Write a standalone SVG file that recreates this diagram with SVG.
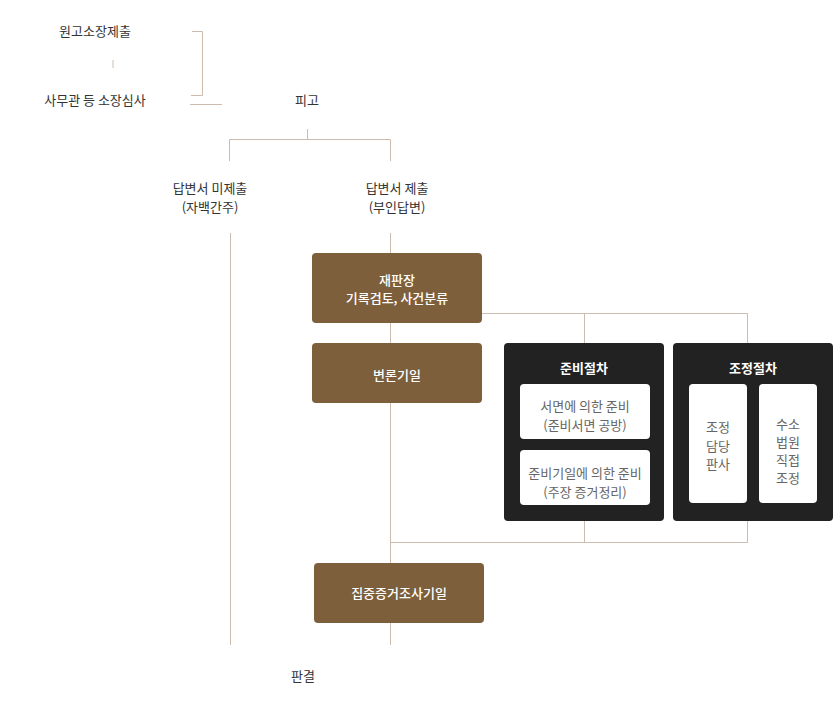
<svg xmlns="http://www.w3.org/2000/svg" width="833" height="706" viewBox="0 0 833 706">
<style>
text{font-family:"Noto Sans CJK KR","Noto Sans",sans-serif;text-anchor:middle}
.lbl{font-size:13px;fill:#333}
.wt{font-size:13px;fill:#fff;font-weight:500}
.hd{font-size:13px;fill:#fff;font-weight:bold}
.gt{font-size:13px;fill:#666}
.ln{stroke:#cdbcad;stroke-width:1;fill:none}
.br{fill:#7d5f3c}
.dk{fill:#222}
.wb{fill:#fff}
</style>
<rect width="833" height="706" fill="#fff"/>
<g id="connectors" class="ln">
<path d="M113 60V68"/>
<path d="M192 31.5H202.5V95.5H191"/>
<path d="M190 104.5H222"/>
<path d="M307.5 129V139.5M229.5 161V139.5H390.5V161"/>
<path d="M230.5 233V645"/>
<path d="M390.5 233V253M390.5 322V343M390.5 402V563M390.5 622V645"/>
<path d="M482 313.5H747.5V343M584.5 313.5V343"/>
<path d="M584.5 521V542.5M747.5 521V542.5H390.5"/>
</g>
<g id="n-wongo"><text class="lbl" x="95" y="36">원고소장제출</text></g>
<g id="n-samugwan"><text class="lbl" x="95" y="105">사무관 등 소장심사</text></g>
<g id="n-pigo"><text class="lbl" x="307" y="105">피고</text></g>
<g id="n-mijechul"><text class="lbl" x="210" y="193">답변서 미제출</text><text class="lbl" x="210" y="212">(자백간주)</text></g>
<g id="n-jechul"><text class="lbl" x="397" y="193">답변서 제출</text><text class="lbl" x="397" y="212">(부인답변)</text></g>
<g id="n-jaepanjang"><rect class="br" x="312" y="253" width="170" height="70" rx="4"/><text class="wt" x="397" y="285">재판장</text><text class="wt" x="397" y="303">기록검토, 사건분류</text></g>
<g id="n-byeollon"><rect class="br" x="312" y="343" width="170" height="60" rx="4"/><text class="wt" x="397" y="380">변론기일</text></g>
<g id="n-junbi"><rect class="dk" x="504" y="343" width="160" height="178" rx="4"/><text class="hd" x="584" y="373">준비절차</text>
<rect class="wb" x="520" y="384" width="130" height="55" rx="4"/><text class="gt" x="585" y="411">서면에 의한 준비</text><text class="gt" x="585" y="430">(준비서면 공방)</text>
<rect class="wb" x="520" y="450" width="130" height="55" rx="4"/><text class="gt" x="585" y="478">준비기일에 의한 준비</text><text class="gt" x="585" y="497">(주장 증거정리)</text></g>
<g id="n-jojeong"><rect class="dk" x="673" y="343" width="160" height="178" rx="4"/><text class="hd" x="753" y="373">조정절차</text>
<rect class="wb" x="689" y="384" width="58" height="119" rx="4"/><text class="gt" x="718" y="432">조정</text><text class="gt" x="718" y="451">담당</text><text class="gt" x="718" y="469">판사</text>
<rect class="wb" x="759" y="384" width="58" height="119" rx="4"/><text class="gt" x="788" y="429">수소</text><text class="gt" x="788" y="447">법원</text><text class="gt" x="788" y="465">직접</text><text class="gt" x="788" y="483">조정</text></g>
<g id="n-jipjung"><rect class="br" x="314" y="563" width="170" height="60" rx="4"/><text class="wt" x="399" y="598">집중증거조사기일</text></g>
<g id="n-pangyeol"><text class="lbl" x="303" y="681">판결</text></g>
</svg>
